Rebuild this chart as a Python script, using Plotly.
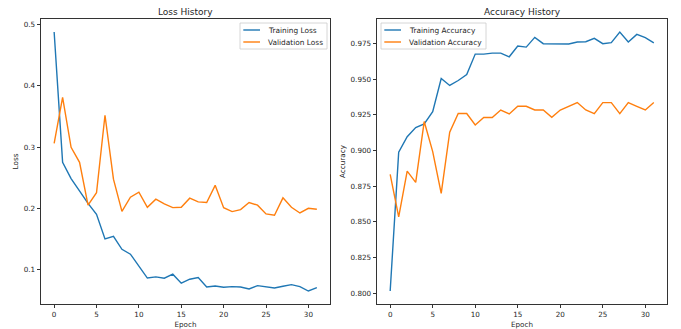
import plotly.graph_objects as go

# Training history per epoch
epochs = list(range(32))

train_loss = [0.488, 0.275, 0.2485, 0.228, 0.208, 0.190, 0.150, 0.154, 0.133, 0.125,
              0.105, 0.0860, 0.0879, 0.0857, 0.0923, 0.0775, 0.0841, 0.0868, 0.0714, 0.0731,
              0.0709, 0.0720, 0.0714, 0.0681, 0.0736, 0.0720, 0.0698, 0.0725, 0.0753, 0.0720,
              0.0648, 0.0703]
val_loss = [0.306, 0.381, 0.2995, 0.275, 0.205, 0.2254, 0.352, 0.2475, 0.195, 0.2181,
            0.2264, 0.2016, 0.2148, 0.207, 0.201, 0.2016, 0.2165, 0.2104, 0.2093, 0.2374,
            0.201, 0.1945, 0.1978, 0.2093, 0.205, 0.1907, 0.1885, 0.217, 0.2016, 0.1923,
            0.200, 0.1984]

train_acc = [0.8014, 0.8987, 0.9096, 0.9160, 0.9186, 0.9272, 0.9504, 0.9455, 0.9490, 0.9532,
             0.9675, 0.9675, 0.9682, 0.9682, 0.9656, 0.9731, 0.9724, 0.9792, 0.9748, 0.9746,
             0.9748, 0.9746, 0.9760, 0.9762, 0.9785, 0.9748, 0.9755, 0.9830, 0.9760, 0.9813,
             0.9790, 0.9753]
val_acc = [0.8832, 0.8534, 0.8855, 0.8776, 0.9202, 0.8991, 0.8699, 0.9127, 0.9258, 0.9258,
           0.9178, 0.9230, 0.9230, 0.9283, 0.9255, 0.9309, 0.9309, 0.9283, 0.9283, 0.9232,
           0.9283, 0.9309, 0.9335, 0.9283, 0.9258, 0.9335, 0.9335, 0.9258, 0.9335, 0.9309,
           0.9283, 0.9335]

loss_names = ["Training Loss", "Validation Loss"]
acc_names = ["Training Accuracy", "Validation Accuracy"]

BLUE = "#1f77b4"
ORANGE = "#ff7f0e"
FONT = "DejaVu Sans"
TXT = "#262626"
LW = 1.4

fig = go.Figure()
fig.add_trace(go.Scatter(x=epochs, y=train_loss, mode="lines", name=loss_names[0],
                         line=dict(color=BLUE, width=LW), xaxis="x", yaxis="y"))
fig.add_trace(go.Scatter(x=epochs, y=val_loss, mode="lines", name=loss_names[1],
                         line=dict(color=ORANGE, width=LW), xaxis="x", yaxis="y"))
fig.add_trace(go.Scatter(x=epochs, y=train_acc, mode="lines", name=acc_names[0],
                         line=dict(color=BLUE, width=LW), xaxis="x2", yaxis="y2"))
fig.add_trace(go.Scatter(x=epochs, y=val_acc, mode="lines", name=acc_names[1],
                         line=dict(color=ORANGE, width=LW), xaxis="x2", yaxis="y2"))

L, R, T, B = 41, 14, 19, 25
W, H = 681, 329
pw = W - L - R
ph = H - T - B

def px_x(x):
    return (x - L) / pw

def px_y(y):
    return 1 - (y - T) / ph

axis_common = dict(
    showline=True, linecolor="#333", linewidth=0.9, mirror=True,
    ticks="outside", ticklen=3.5, tickwidth=0.8, tickcolor="#333",
    showgrid=False, zeroline=False, automargin=False,
    tickfont=dict(family=FONT, size=7.2, color=TXT),
)
label_font = dict(family=FONT, size=7.2, color=TXT)

shapes = []
annotations = [
    dict(text="Loss History", x=(px_x(41) + px_x(330)) / 2, y=px_y(12),
         xref="paper", yref="paper", showarrow=False, xanchor="center", yanchor="middle",
         font=dict(family=FONT, size=9, color=TXT)),
    dict(text="Accuracy History", x=(px_x(377) + px_x(667)) / 2, y=px_y(12),
         xref="paper", yref="paper", showarrow=False, xanchor="center", yanchor="middle",
         font=dict(family=FONT, size=9, color=TXT)),
]

# Compact matplotlib-style legend boxes: (box x0, box x1, entry names)
legend_specs = [(240, 327, loss_names), (381, 486, acc_names)]
for x0, x1, names in legend_specs:
    shapes.append(dict(type="rect", xref="paper", yref="paper",
                       x0=px_x(x0), x1=px_x(x1), y0=px_y(49), y1=px_y(23),
                       line=dict(color="#cccccc", width=0.8),
                       fillcolor="rgba(255,255,255,0.8)", layer="above"))
    for i, (name, color) in enumerate(zip(names, [BLUE, ORANGE])):
        yy = 30 + 12 * i
        shapes.append(dict(type="line", xref="paper", yref="paper",
                           x0=px_x(x0 + 3.3), x1=px_x(x0 + 20), y0=px_y(yy), y1=px_y(yy),
                           line=dict(color=color, width=LW), layer="above"))
        annotations.append(dict(text=name, x=px_x(x0 + 25.7), y=px_y(yy),
                                xref="paper", yref="paper", showarrow=False,
                                xanchor="left", yanchor="middle",
                                font=dict(family=FONT, size=7.4, color=TXT)))

fig.update_layout(
    width=W, height=H,
    margin=dict(l=L, r=R, t=T, b=B, autoexpand=False),
    paper_bgcolor="white", plot_bgcolor="white",
    showlegend=False,
    xaxis=dict(domain=[0, px_x(330)], range=[-1.55, 32.55], dtick=5, anchor="y",
               title=dict(text="Epoch", font=label_font, standoff=7),
               **axis_common),
    yaxis=dict(domain=[0, 1], range=[0.0436, 0.5092], dtick=0.1, tickformat=".1f", anchor="x",
               title=dict(text="Loss", font=label_font, standoff=4),
               **axis_common),
    xaxis2=dict(domain=[px_x(377), 1], range=[-1.55, 32.55], dtick=5, anchor="y2",
                title=dict(text="Epoch", font=label_font, standoff=7),
                **axis_common),
    yaxis2=dict(domain=[0, 1], range=[0.7923, 0.9921], dtick=0.025, tickformat=".3f", anchor="x2",
                title=dict(text="Accuracy", font=label_font, standoff=4),
                **axis_common),
    shapes=shapes,
    annotations=annotations,
)

fig.write_html("out.html")
